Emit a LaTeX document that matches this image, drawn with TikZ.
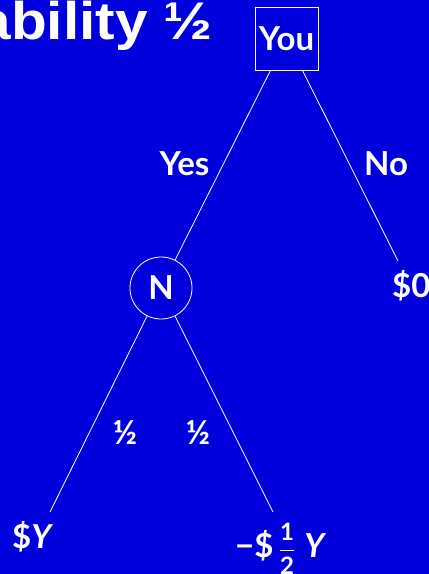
\documentclass[tikz,border=0pt]{standalone}
\usepackage{amsmath}
\usepackage{fontspec}
\setmainfont{Lato}
\newfontfamily\titlefont{Liberation Sans}
\usepackage{tikz}
\usetikzlibrary{positioning}
\definecolor{slideblue}{RGB}{0,0,220}

\tikzset{
  treefont/.style={font=\bfseries\fontsize{33}{38}\selectfont},
  decision/.style={draw=white, line width=0.8pt, minimum size=63pt, inner sep=0pt, text=white, treefont},
  chance/.style={circle, draw=white, line width=0.8pt, minimum size=62pt, inner sep=0pt, text=white, treefont},
  lbl/.style={text=white, inner sep=0pt, anchor=base, treefont},
  payoff/.style={lbl, anchor=base west},
  branch/.style={white, line width=0.8pt}
}
\newcommand{\fracdigit}[1]{\text{\fontsize{24}{26}\selectfont #1}}

\begin{document}
\begin{tikzpicture}[x=1pt, y=-1pt]
    \path[use as bounding box, fill=slideblue] (0,0) rectangle (429,574);
    \node[text=white, inner sep=0pt, anchor=base west, font=\titlefont\bfseries\fontsize{53}{60}\selectfont] (title) at (-21.7,39.5) {\scalebox{1.105}[1]{ability ½}};
    \node[decision] (you) at (286.5,38.5) {You};
    \node[chance] (nature) at (161,288) {N};
    \coordinate (noend) at (398,261);
    \coordinate (upend) at (50,512);
    \coordinate (downend) at (273,512);
    \draw[branch] (you) -- (nature);
    \draw[branch] (you) -- (noend);
    \draw[branch] (nature) -- (upend);
    \draw[branch] (nature) -- (downend);
    \node[lbl] (yes) at (184.5,175) {Yes};
    \node[lbl] (no) at (386,175) {No};
    \node[lbl] (halfup) at (125,444) {½};
    \node[lbl] (halfdown) at (198,444) {½};
    \node[payoff] (zero) at (392,297) {\$0};
    \node[payoff] (gain) at (12,548) {\$\textit{Y}};
    \node[payoff] (loss) at (235,557) {−\$\,$\dfrac{\fracdigit{1}}{\fracdigit{2}}$\;\textit{Y}};
\end{tikzpicture}
\end{document}
